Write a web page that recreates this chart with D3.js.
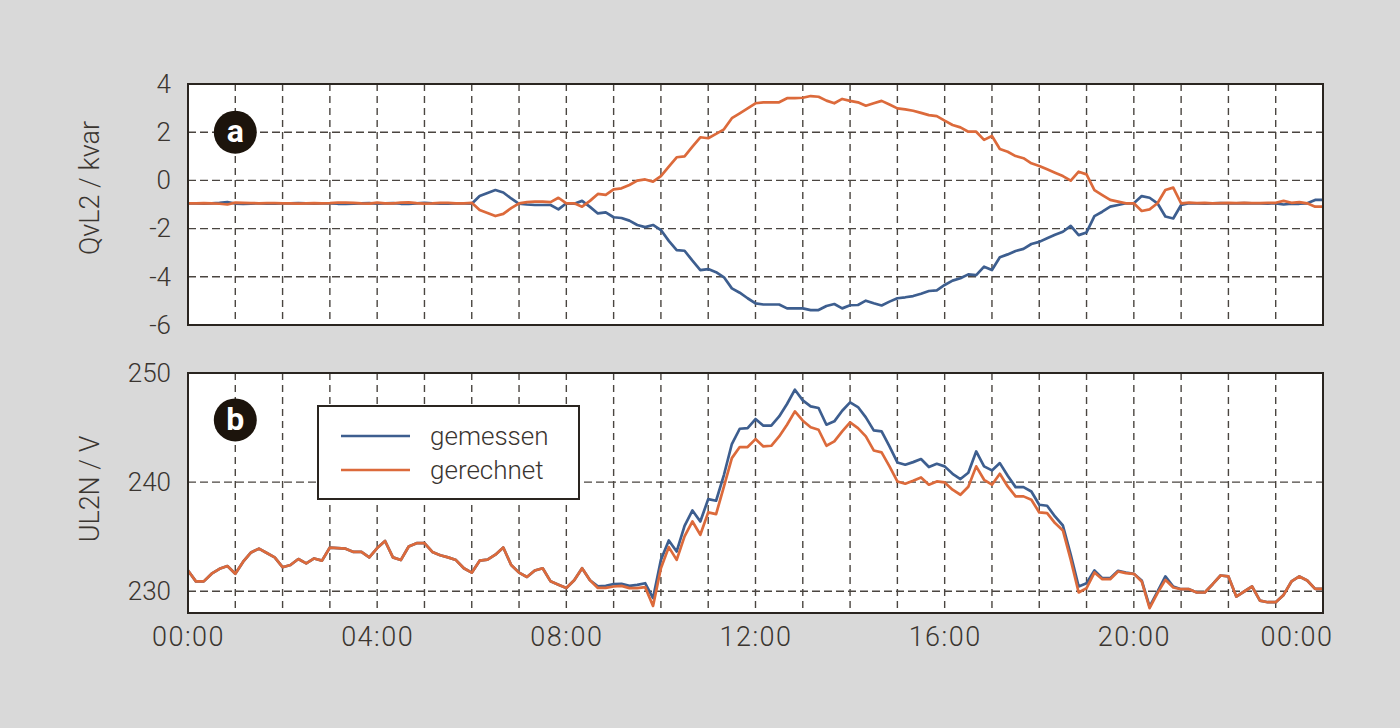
<!DOCTYPE html>
<html lang="de">
<head>
  <meta charset="UTF-8">
  <title>QvL2 / UL2N</title>
  <script src="https://cdn.jsdelivr.net/npm/d3@7"></script>
  <style>
  body{
    margin:0;
    background:#d9d9d9;
  }
  svg text{
    font-family:'Roboto', sans-serif;
    font-weight:300;
    fill:#3a3530;
  }
  .axis path, .axis line{
    display:none;
  }
  .axis text{
    font-size:26px;
  }
  .xaxis text{
    font-size:27px;
    letter-spacing:1.5px;
  }
  .grid{
    stroke:#4a4540;
    stroke-width:1.4;
    fill:none;
  }
  .frame{
    fill:none;
    stroke:#2a2520;
    stroke-width:2;
  }
  .titulo{
    font-size:27px;
  }
  .leyenda{
    font-size:26px;
  }
  .marca{
    font-family:'Roboto', sans-serif;
    font-weight:700 !important;
    font-size:32px;
    fill:#fff !important;
  }
  </style>
</head>
<body>
  <div id="grafico"></div>

  <script>
    // time axis: one value every 10 minutes, 00:00 to 00:00
    var startTime = new Date(2000, 0, 1, 0, 0);
    var stepMinutes = 10;
    var seriesNames = ["gemessen", "gerechnet"];

    // a) QvL2 / kvar
    var qGemessen = [
      -0.95,-0.95,-0.96,-0.95,-0.93,-0.9,-0.96,-0.97,-0.96,-0.95,-0.96,-0.96,-0.95,-0.95,-0.94,-0.95,-0.96,-0.95,
      -0.95,-0.97,-0.97,-0.96,-0.95,-0.94,-0.97,-0.95,-0.94,-0.97,-0.98,-0.95,-0.93,-0.95,-0.96,-0.96,-0.95,-0.95,
      -0.97,-0.65,-0.52,-0.4,-0.5,-0.75,-0.97,-1.0,-1.02,-1.02,-1.02,-1.2,-0.95,-0.97,-0.85,-1.1,-1.37,-1.33,
      -1.53,-1.56,-1.67,-1.85,-1.94,-1.85,-2.06,-2.51,-2.89,-2.92,-3.33,-3.72,-3.68,-3.81,-4.02,-4.48,-4.66,-4.89,
      -5.1,-5.15,-5.15,-5.15,-5.31,-5.31,-5.31,-5.38,-5.38,-5.21,-5.13,-5.31,-5.18,-5.17,-4.99,-5.1,-5.19,-5.03,
      -4.89,-4.85,-4.8,-4.7,-4.59,-4.56,-4.34,-4.16,-4.06,-3.9,-3.93,-3.58,-3.72,-3.19,-3.07,-2.93,-2.84,-2.64,
      -2.55,-2.4,-2.26,-2.13,-1.89,-2.27,-2.16,-1.48,-1.3,-1.09,-1.02,-0.95,-0.95,-0.65,-0.72,-0.95,-1.5,-1.58,
      -1.02,-0.95,-0.95,-0.96,-0.95,-0.94,-0.95,-0.95,-0.94,-0.95,-0.95,-0.96,-0.95,-1.0,-0.96,-0.97,-0.95,-0.81,-0.81
    ];
    var qGerechnet = [
      -0.95,-0.95,-0.94,-0.95,-0.97,-1.0,-0.92,-0.93,-0.94,-0.95,-0.94,-0.94,-0.95,-0.95,-0.96,-0.95,-0.94,-0.95,
      -0.94,-0.92,-0.92,-0.93,-0.95,-0.96,-0.92,-0.95,-0.95,-0.92,-0.91,-0.94,-0.96,-0.95,-0.93,-0.93,-0.95,-0.95,
      -0.93,-1.23,-1.35,-1.48,-1.39,-1.15,-0.95,-0.9,-0.88,-0.88,-0.9,-0.72,-0.95,-0.95,-1.09,-0.85,-0.56,-0.6,
      -0.37,-0.33,-0.19,-0.01,0.04,-0.05,0.18,0.57,0.96,1.0,1.4,1.79,1.75,1.93,2.12,2.58,2.78,2.99,
      3.2,3.24,3.24,3.24,3.41,3.41,3.43,3.5,3.47,3.31,3.2,3.38,3.3,3.24,3.1,3.2,3.3,3.15,
      2.99,2.95,2.89,2.8,2.71,2.67,2.48,2.3,2.2,2.02,2.02,1.68,1.84,1.3,1.19,1.01,0.92,0.71,
      0.6,0.46,0.32,0.18,-0.01,0.36,0.25,-0.4,-0.61,-0.81,-0.88,-0.95,-0.95,-1.27,-1.2,-0.95,-0.4,-0.3,
      -0.95,-0.92,-0.94,-0.93,-0.95,-0.94,-0.93,-0.94,-0.93,-0.94,-0.94,-0.93,-0.93,-0.85,-0.93,-0.9,-0.95,-1.09,-1.09
    ];

    // b) UL2N / V
    var uGemessen = [
      231.9,230.9,230.9,231.6,232.05,232.3,231.6,232.7,233.55,233.9,233.5,233.1,232.2,232.4,232.95,232.55,233.0,232.8,
      234.0,233.95,233.9,233.6,233.6,233.1,233.95,234.6,233.1,232.85,234.1,234.4,234.4,233.6,233.3,233.1,232.85,232.1,
      231.7,232.8,232.9,233.35,234.0,232.4,231.7,231.3,231.9,232.1,230.9,230.6,230.3,231.0,232.1,231.0,230.45,230.5,
      230.64,230.67,230.49,230.58,230.73,229.36,232.87,234.65,233.64,235.99,237.4,236.39,238.44,238.29,240.67,243.49,244.89,244.95,
      245.78,245.17,245.17,246.02,247.16,248.47,247.49,246.94,246.79,245.26,245.57,246.54,247.31,246.88,245.93,244.74,244.65,243.27,
      241.8,241.59,241.83,242.11,241.38,241.68,241.44,240.76,240.28,240.86,242.81,241.44,241.07,241.74,240.58,239.54,239.54,239.14,
      237.92,237.83,236.85,236.02,233.33,230.43,230.73,231.9,231.19,231.19,231.87,231.71,231.59,230.98,228.59,229.97,231.35,230.43,
      230.18,230.18,229.88,229.88,230.64,231.44,231.35,229.51,229.97,230.43,229.14,228.99,228.99,229.66,230.89,231.35,230.98,230.21,230.21
    ];
    var uGerechnet = [
      231.9,230.9,230.9,231.6,232.05,232.3,231.6,232.7,233.55,233.9,233.5,233.1,232.2,232.4,232.95,232.55,233.0,232.8,
      234.0,233.95,233.9,233.6,233.6,233.1,233.95,234.6,233.1,232.85,234.1,234.4,234.4,233.6,233.3,233.1,232.85,232.1,
      231.7,232.8,232.9,233.35,234.0,232.4,231.7,231.3,231.9,232.1,230.9,230.6,230.3,231.0,232.1,231.0,230.3,230.3,
      230.43,230.49,230.28,230.28,230.37,228.65,232.11,234.04,232.87,235.02,236.39,235.17,237.22,237.06,239.6,242.2,243.21,243.21,
      243.94,243.27,243.33,244.19,245.26,246.48,245.63,245.02,244.8,243.33,243.73,244.65,245.47,244.95,244.19,242.9,242.72,241.44,
      240.06,239.85,240.12,240.43,239.76,240.06,239.97,239.3,238.84,239.57,241.44,240.21,239.76,240.76,239.6,238.69,238.69,238.38,
      237.22,237.16,236.24,235.57,232.87,229.88,230.28,231.71,231.1,231.1,231.8,231.65,231.59,230.89,228.44,229.82,231.04,230.34,
      230.18,230.18,229.88,229.88,230.64,231.44,231.35,229.51,229.97,230.43,229.14,228.99,228.99,229.66,230.89,231.35,230.98,230.21,230.21
    ];

    var qTicks = [4, 2, 0, -2, -4, -6];
    var uTicks = [250, 240, 230];
    var timeTickHours = [0, 4, 8, 12, 16, 20, 24];

    var w = 1400;
    var h = 728;
    var left = 188, right = 1323;
    var colorSerie = ['#3d5e8f', '#dc6a3b'];

    var svg = d3.select("#grafico")
      .append("svg")
      .attr("width", w)
      .attr("height", h);

    svg.append("rect")
      .attr("width", w)
      .attr("height", h)
      .attr("fill", "#d9d9d9");

    function hourDate(hr){
      return d3.timeMinute.offset(startTime, hr * 60);
    }

    var xScale = d3.scaleTime()
      .domain([startTime, hourDate(24)])
      .range([left, right]);

    var gridHours = d3.timeHour.range(hourDate(1), hourDate(24));

    var panels = [
      {id: "a", top: 84, bottom: 325, domain: [-6, 4], ticks: qTicks,
       title: "QvL2 / kvar", titleY: 188, series: [qGemessen, qGerechnet], markY: 2},
      {id: "b", top: 373, bottom: 613, domain: [228, 250], ticks: uTicks,
       title: "UL2N / V", titleY: 489, series: [uGemessen, uGerechnet], markY: 245.7}
    ];

    panels.forEach(function(p){
      var yScale = d3.scaleLinear()
        .domain(p.domain)
        .range([p.bottom, p.top]);

      var g = svg.append("g");

      g.append("rect")
        .attr("x", left)
        .attr("y", p.top)
        .attr("width", right - left)
        .attr("height", p.bottom - p.top)
        .attr("fill", "#fff");

      // gridlines
      g.selectAll(".hgrid")
        .data(p.ticks.filter(function(t){ return t > p.domain[0] && t < p.domain[1]; }))
        .enter()
        .append("line")
        .attr("class", "grid")
        .attr("x1", left)
        .attr("x2", right)
        .attr("y1", function(d){ return yScale(d); })
        .attr("y2", function(d){ return yScale(d); })
        .attr("stroke-dasharray", "8,4");

      g.selectAll(".vgrid")
        .data(gridHours)
        .enter()
        .append("line")
        .attr("class", "grid")
        .attr("x1", function(d){ return xScale(d); })
        .attr("x2", function(d){ return xScale(d); })
        .attr("y1", p.top)
        .attr("y2", p.bottom)
        .attr("stroke-dasharray", "7,5");

      // y axis labels (plain hyphen for negatives)
      g.append("g")
        .attr("class", "axis")
        .attr("transform", "translate(" + left + ",0)")
        .call(d3.axisLeft(yScale).tickValues(p.ticks).tickSize(0).tickPadding(17)
          .tickFormat(function(d){ return String(d); }));

      g.append("text")
        .attr("class", "titulo")
        .attr("transform", "translate(90," + p.titleY + ") rotate(-90)")
        .attr("text-anchor", "middle")
        .attr("dominant-baseline", "central")
        .text(p.title);

      // lines
      g.append("clipPath")
        .attr("id", "clip" + p.id)
        .append("rect")
        .attr("x", left)
        .attr("y", p.top)
        .attr("width", right - left)
        .attr("height", p.bottom - p.top);

      var linea = d3.line()
        .x(function(d, i){ return xScale(d3.timeMinute.offset(startTime, i * stepMinutes)); })
        .y(function(d){ return yScale(d); });

      p.series.forEach(function(s, k){
        g.append("path")
          .datum(s)
          .attr("clip-path", "url(#clip" + p.id + ")")
          .attr("fill", "none")
          .attr("stroke", colorSerie[k])
          .attr("stroke-width", 2.7)
          .attr("stroke-linejoin", "round")
          .attr("d", linea);
      });

      g.append("rect")
        .attr("class", "frame")
        .attr("x", left)
        .attr("y", p.top)
        .attr("width", right - left)
        .attr("height", p.bottom - p.top);

      // panel letter
      g.append("circle")
        .attr("cx", xScale(hourDate(1)))
        .attr("cy", yScale(p.markY))
        .attr("r", 21.5)
        .attr("fill", "#1c140c");

      g.append("text")
        .attr("class", "marca")
        .attr("x", xScale(hourDate(1)))
        .attr("y", yScale(p.markY))
        .attr("text-anchor", "middle")
        .attr("dominant-baseline", "central")
        .attr("dy", "-0.04em")
        .text(p.id);
    });

    // time axis under panel b
    var xAxis = d3.axisBottom(xScale)
      .tickValues(timeTickHours.map(hourDate))
      .tickSize(0)
      .tickPadding(14)
      .tickFormat(d3.timeFormat("%H:%M"));

    var ejeX = svg.append("g")
      .attr("class", "axis xaxis")
      .attr("transform", "translate(0," + panels[1].bottom + ")")
      .call(xAxis);

    ejeX.selectAll(".tick:last-of-type text")
      .attr("text-anchor", "end")
      .attr("dx", 10);

    // legend
    var leg = svg.append("g");

    leg.append("rect")
      .attr("x", 318)
      .attr("y", 406)
      .attr("width", 261)
      .attr("height", 93)
      .attr("fill", "#fff")
      .attr("stroke", "#2a2520")
      .attr("stroke-width", 2);

    seriesNames.forEach(function(name, k){
      var yy = 436 + k * 34;
      leg.append("line")
        .attr("x1", 341)
        .attr("x2", 410)
        .attr("y1", yy)
        .attr("y2", yy)
        .attr("stroke", colorSerie[k])
        .attr("stroke-width", 2.7);
      leg.append("text")
        .attr("class", "leyenda")
        .attr("x", 430)
        .attr("y", yy + 9)
        .text(name);
    });
  </script>
</body>
</html>
